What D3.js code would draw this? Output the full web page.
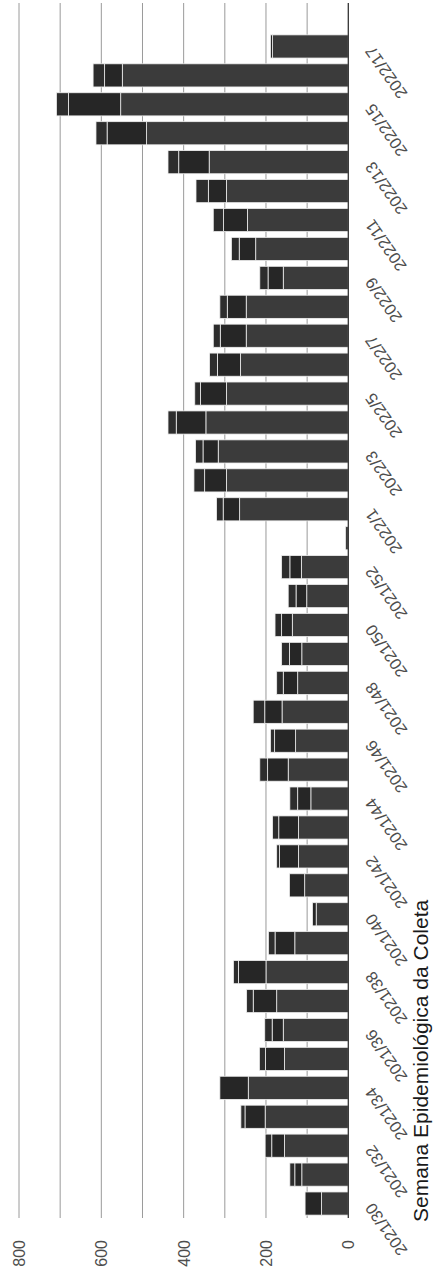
<!DOCTYPE html>
<html>
<head>
<meta charset="utf-8">
<script src="https://cdn.jsdelivr.net/npm/d3@7"></script>
<style>
html, body { margin: 0; padding: 0; background: #ffffff; }
svg { display: block; }
</style>
</head>
<body>
<svg id="chart" width="435" height="1279"></svg>
<script>
// ---- data ----
const weeks = [
  "2021/30","2021/31","2021/32","2021/33","2021/34","2021/35","2021/36","2021/37",
  "2021/38","2021/39","2021/40","2021/41","2021/42","2021/43","2021/44","2021/45",
  "2021/46","2021/47","2021/48","2021/49","2021/50","2021/51","2021/52","2021/53",
  "2022/1","2022/2","2022/3","2022/4","2022/5","2022/6","2022/7","2022/8",
  "2022/9","2022/10","2022/11","2022/12","2022/13","2022/14","2022/15","2022/16","2022/17"
];
const seriesA = [65,113,155,202,243,155,158,174,200,130,78,106,121,121,91,146,128,161,123,113,136,101,114,7,
                 264,296,316,346,296,262,248,248,158,225,245,296,338,490,553,549,184];
const seriesB = [40,17,31,49,69,46,27,57,67,48,9,37,46,48,32,50,51,42,35,30,26,26,28,0,
                 40,53,37,72,63,56,63,46,37,40,58,44,74,96,127,43,5];
const seriesC = [0,12,16,10,0,15,18,16,12,16,0,0,7,15,19,19,10,28,16,19,16,19,20,0,
                 16,26,18,20,14,19,17,18,20,19,25,30,26,27,29,28,0];
const valueTicks = [0, 200, 400, 600, 800];
const gridValues = [100, 200, 300, 400, 500, 600, 700, 800];
const weekTicks = weeks.filter((d, i) => i % 2 === 0);
const axisTitle = "Semana Epidemiológica da Coleta";
const seriesKeys = ["A", "B", "C"];
const seriesColors = ["#3b3b3b", "#262626", "#2d2d2d"];

// ---- drawing ----
const FONT = "'Liberation Sans', Arial, Helvetica, sans-serif";
const svg = d3.select("#chart");

const x = d3.scaleLinear().domain([0, 800]).range([348.3, 19]);
const y = d3.scaleBand().domain(weeks).range([1218, 32]).paddingInner(0.2).paddingOuter(0.1);
const color = d3.scaleOrdinal().domain(seriesKeys).range(seriesColors);

// gridlines
svg.append("g").selectAll("line").data(gridValues).join("line")
  .attr("x1", d => x(d)).attr("x2", d => x(d))
  .attr("y1", 3).attr("y2", 1218)
  .attr("stroke", "#9a9a9a").attr("stroke-width", 1);

// stacked bars
const rows = weeks.map((w, i) => ({ week: w, A: seriesA[i], B: seriesB[i], C: seriesC[i] }));
const stacked = d3.stack().keys(seriesKeys)(rows);
svg.append("g").selectAll("g").data(stacked).join("g")
  .attr("fill", d => color(d.key))
  .selectAll("rect").data(d => d.filter(s => s[1] > s[0])).join("rect")
  .attr("x", d => x(d[1]))
  .attr("width", d => x(d[0]) - x(d[1]))
  .attr("y", d => y(d.data.week))
  .attr("height", y.bandwidth())
  .attr("stroke", "#eeeeee").attr("stroke-width", 0.8);

// zero line
svg.append("line")
  .attr("x1", x(0)).attr("x2", x(0)).attr("y1", 3).attr("y2", 1218)
  .attr("stroke", "#333333").attr("stroke-width", 1.3);

// value axis (rotated)
const gx = svg.append("g").attr("transform", "translate(0,1240)")
  .call(d3.axisBottom(x).tickValues(valueTicks).tickSize(0).tickPadding(0));
gx.select(".domain").remove();
gx.selectAll("text")
  .attr("x", 0).attr("y", 0).attr("dy", "0.35em")
  .attr("transform", "rotate(-90)")
  .attr("text-anchor", "end")
  .attr("fill", "#4d4d4d")
  .style("font-family", FONT).style("font-size", "16px");

// category axis (rotated labels)
const gy = svg.append("g").attr("transform", "translate(369,1.5)")
  .call(d3.axisRight(y).tickValues(weekTicks).tickSize(0).tickPadding(0));
gy.select(".domain").remove();
gy.selectAll("text")
  .attr("x", 0).attr("y", 0).attr("dy", "0.35em")
  .attr("transform", "rotate(-125)")
  .attr("text-anchor", "end")
  .attr("fill", "#4d4d4d")
  .style("font-family", FONT).style("font-size", "16.5px");

// axis title
svg.append("text")
  .attr("transform", "translate(428,1222) rotate(-90)")
  .attr("text-anchor", "start")
  .attr("fill", "#1a1a1a")
  .style("font-family", FONT).style("font-size", "21px")
  .text(axisTitle);
</script>
</body>
</html>
